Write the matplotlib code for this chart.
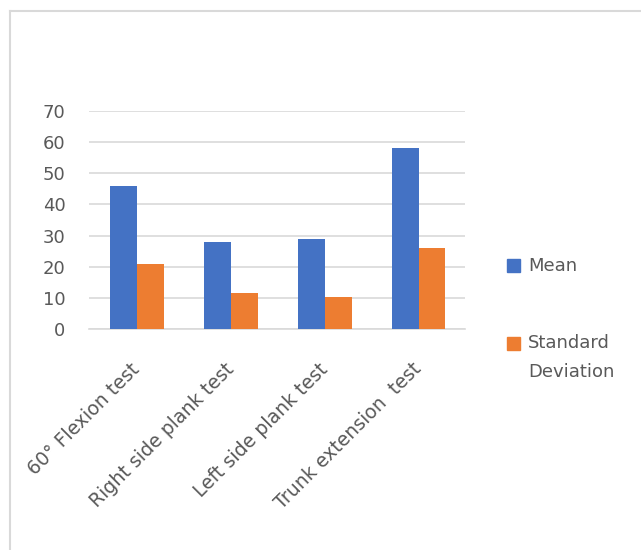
import numpy as np
import matplotlib.pyplot as plt
from matplotlib.lines import Line2D
from matplotlib.patches import Rectangle
from matplotlib.transforms import ScaledTranslation

tests = ["60° Flexion test", "Right side plank test", "Left side plank test", "Trunk extension  test"]
mean_vals = [46, 28, 29, 58]
sd_vals = [21, 11.5, 10.3, 26]
yticks = [0, 10, 20, 30, 40, 50, 60, 70]

blue = "#4472C4"
orange = "#ED7D31"
txt = "#595959"
W, H = 641, 550

fig = plt.figure(figsize=(W / 100, H / 100), dpi=100)
ax = fig.add_axes([0.139, 0.402, 0.586, 0.396])

x = np.arange(len(tests))
w = 0.285
ax.bar(x - w/2 + 0.01, mean_vals, w, color=blue, zorder=3)
ax.bar(x + w/2 + 0.01, sd_vals, w, color=orange, zorder=3)

ax.set_xlim(-0.5, len(tests) - 0.5)
ax.set_ylim(0, 70)
ax.set_yticks(yticks)
ax.tick_params(axis="y", length=0, pad=17, labelsize=13, labelcolor=txt)
ax.tick_params(axis="x", length=0, pad=22)
ax.set_xticks(x)
ax.set_xticklabels(tests, rotation=45, ha="right", rotation_mode="anchor",
                   fontsize=13.6, color=txt)
shift = ScaledTranslation(-6 / 100, 0, fig.dpi_scale_trans)
for lab in ax.get_xticklabels():
    lab.set_transform(lab.get_transform() + shift)
ax.grid(axis="y", color="#D9D9D9", linewidth=1.2, zorder=0)
for s in ["top", "right", "left"]:
    ax.spines[s].set_visible(False)
ax.spines["bottom"].set_color("#D9D9D9")
ax.spines["bottom"].set_linewidth(1.2)

# legend, drawn by hand so the square sits on the first line of a two-line label
def fx(px):
    return px / W

def fy(py):
    return 1 - py / H

sq = 13
fig.add_artist(Rectangle((fx(507), fy(272)), sq / W, sq / H, color=blue,
                         transform=fig.transFigure))
fig.text(fx(528), fy(266), "Mean", fontsize=13, color=txt, va="center")
fig.add_artist(Rectangle((fx(507), fy(350)), sq / W, sq / H, color=orange,
                         transform=fig.transFigure))
fig.text(fx(528), fy(343), "Standard", fontsize=13, color=txt, va="center")
fig.text(fx(528), fy(372), "Deviation", fontsize=13, color=txt, va="center")

# chart frame (cropped at right and bottom)
fig.add_artist(Line2D([fx(10), fx(10)], [0, fy(11)], color="#D9D9D9", lw=1.5))
fig.add_artist(Line2D([fx(10), 1], [fy(11), fy(11)], color="#D9D9D9", lw=1.5))

fig.savefig("out.png", dpi=100)
